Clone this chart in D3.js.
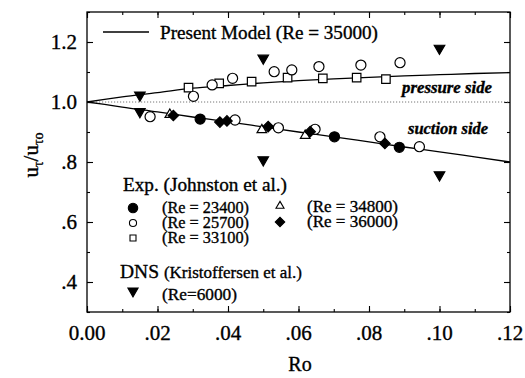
<!DOCTYPE html>
<html><head><meta charset="utf-8">
<script src="https://cdn.jsdelivr.net/npm/d3@7"></script>
<style>
body{margin:0;background:#fff;}
svg{display:block;}
svg text{stroke:#000;stroke-width:0.35px;}
</style></head>
<body>
<svg id="chart" width="525" height="378" font-family="'Liberation Serif', 'DejaVu Serif', serif"></svg>
<script>
// ---- data ----
const modelRo       = [0, 0.005, 0.01, 0.02, 0.03, 0.04, 0.05, 0.06, 0.07, 0.08, 0.09, 0.10, 0.11, 0.12];
const modelPressure = [1.0, 1.009, 1.017, 1.031, 1.046, 1.055, 1.064, 1.071, 1.077, 1.082, 1.087, 1.091, 1.095, 1.098];
const modelSuction  = [1.0, 0.992, 0.983, 0.967, 0.950, 0.934, 0.917, 0.900, 0.884, 0.867, 0.850, 0.834, 0.817, 0.800];

const exp23400Ro = [0.0321, 0.0702, 0.0886];
const exp23400U  = [0.943, 0.884, 0.849];

const exp25700Ro = [0.0302, 0.0355, 0.0413, 0.0531, 0.0581, 0.0658, 0.0777, 0.0888,
                    0.0179, 0.0420, 0.0543, 0.0647, 0.0831, 0.0943];
const exp25700U  = [1.019, 1.057, 1.079, 1.101, 1.107, 1.118, 1.123, 1.131,
                    0.951, 0.940, 0.914, 0.909, 0.884, 0.851];

const exp33100Ro = [0.0288, 0.0375, 0.0467, 0.0569, 0.0669, 0.0765, 0.0848];
const exp33100U  = [1.048, 1.062, 1.068, 1.081, 1.079, 1.081, 1.076];

const exp34800Ro = [0.0235, 0.0496, 0.0619];
const exp34800U  = [0.958, 0.907, 0.888];

const exp36000Ro = [0.0245, 0.0377, 0.0397, 0.0514, 0.0633, 0.0845];
const exp36000U  = [0.955, 0.933, 0.937, 0.918, 0.901, 0.862];

const dnsRo = [0.015, 0.05, 0.10, 0.015, 0.05, 0.10];
const dnsU  = [1.023, 1.146, 1.179, 0.968, 0.807, 0.757];

const xTicks = [0, 0.02, 0.04, 0.06, 0.08, 0.10, 0.12];
const xTickLabels = ["0.00", ".02", ".04", ".06", ".08", ".10", ".12"];
const yTicks = [0.4, 0.6, 0.8, 1.0, 1.2];
const yTickLabels = [".4", ".6", ".8", "1.0", "1.2"];

// ---- layout ----
const svg = d3.select("#chart");
const L = 87, R = 510, T = 12, B = 312;
const x = d3.scaleLinear().domain([0, 0.12]).range([L, R]);
const y = d3.scaleLinear().domain([0.3, 1.3]).range([B, T]);

// frame
svg.append("rect").attr("x", L).attr("y", T).attr("width", R - L).attr("height", B - T)
  .attr("fill", "none").attr("stroke", "#000").attr("stroke-width", 1.3);

// ticks (inward) via axes
const xMinor = d3.range(0, 0.1201, 0.01);
const yMinor = d3.range(0.3, 1.301, 0.1);
function styleAxis(g){ g.select(".domain").remove(); g.selectAll("line").attr("stroke","#000").attr("stroke-width",1.1); g.selectAll("text").remove(); }
svg.append("g").attr("transform",`translate(0,${B})`).call(d3.axisBottom(x).tickValues(xMinor).tickSizeInner(-3).tickSizeOuter(0)).call(styleAxis);
svg.append("g").attr("transform",`translate(0,${B})`).call(d3.axisBottom(x).tickValues(xTicks).tickSizeInner(-6).tickSizeOuter(0)).call(styleAxis);
svg.append("g").attr("transform",`translate(0,${T})`).call(d3.axisTop(x).tickValues(xMinor).tickSizeInner(-3).tickSizeOuter(0)).call(styleAxis);
svg.append("g").attr("transform",`translate(0,${T})`).call(d3.axisTop(x).tickValues(xTicks).tickSizeInner(-6).tickSizeOuter(0)).call(styleAxis);
svg.append("g").attr("transform",`translate(${L},0)`).call(d3.axisLeft(y).tickValues(yMinor).tickSizeInner(-3).tickSizeOuter(0)).call(styleAxis);
svg.append("g").attr("transform",`translate(${L},0)`).call(d3.axisLeft(y).tickValues(yTicks).tickSizeInner(-6).tickSizeOuter(0)).call(styleAxis);
svg.append("g").attr("transform",`translate(${R},0)`).call(d3.axisRight(y).tickValues(yMinor).tickSizeInner(-3).tickSizeOuter(0)).call(styleAxis);
svg.append("g").attr("transform",`translate(${R},0)`).call(d3.axisRight(y).tickValues(yTicks).tickSizeInner(-6).tickSizeOuter(0)).call(styleAxis);

// tick labels
svg.append("g").selectAll("text").data(xTicks).join("text")
  .attr("x", d => x(d)).attr("y", 340).attr("text-anchor", "middle")
  .attr("font-size", 21).text((d, i) => xTickLabels[i]);
svg.append("g").selectAll("text").data(yTicks).join("text")
  .attr("x", 77).attr("y", d => y(d) + 7).attr("text-anchor", "end")
  .attr("font-size", 21).text((d, i) => yTickLabels[i]);

// axis titles
svg.append("text").attr("x", 300).attr("y", 371).attr("text-anchor", "middle").attr("font-size", 20).text("Ro");
const yl = svg.append("text").attr("transform", "translate(38,155) rotate(-90)").attr("text-anchor", "middle").attr("font-size", 21);
yl.append("tspan").text("u");
yl.append("tspan").attr("font-size", 14).attr("dy", 5).text("τ");
yl.append("tspan").attr("dy", -5).text("/u");
yl.append("tspan").attr("font-size", 14).attr("dy", 5).text("τo");

// dotted reference line at 1.0
svg.append("line").attr("x1", x(0)).attr("x2", x(0.12)).attr("y1", y(1)).attr("y2", y(1))
  .attr("stroke", "#777").attr("stroke-width", 1).attr("stroke-dasharray", "1.2,1.8");

// model curves
const line = d3.line().x(d => x(d[0])).y(d => y(d[1])).curve(d3.curveMonotoneX);
[modelPressure, modelSuction].forEach(s => {
  svg.append("path").datum(modelRo.map((r, i) => [r, s[i]])).attr("d", line)
    .attr("fill", "none").attr("stroke", "#000").attr("stroke-width", 1.3);
});

// markers
const sym = {
  circleFilled: {type: d3.symbolCircle, size: 80, fill: "#000"},
  circleOpen:   {type: d3.symbolCircle, size: 80, fill: "#fff"},
  square:       {type: d3.symbolSquare, size: 72, fill: "#fff"},
  triOpen:      {type: d3.symbolTriangle, size: 40, fill: "#fff", rot: 0},
  diamond:      {type: d3.symbolSquare, size: 55, fill: "#000", rot: 45},
  triDown:      {type: d3.symbolTriangle, size: 48, fill: "#000", rot: 180}
};
function drawPts(xs, ys, s) {
  svg.append("g").selectAll("path").data(xs.map((v, i) => [v, ys[i]])).join("path")
    .attr("transform", d => `translate(${x(d[0])},${y(d[1])}) rotate(${s.rot || 0})`)
    .attr("d", d3.symbol().type(s.type).size(s.size))
    .attr("fill", s.fill).attr("stroke", "#000").attr("stroke-width", 1.2);
}
drawPts(exp34800Ro, exp34800U, sym.triOpen);
drawPts(exp33100Ro, exp33100U, sym.square);
drawPts(exp25700Ro, exp25700U, sym.circleOpen);
drawPts(exp36000Ro, exp36000U, sym.diamond);
drawPts(exp23400Ro, exp23400U, sym.circleFilled);
drawPts(dnsRo, dnsU, sym.triDown);

// ---- legend & annotations ----
function txt(s, tx, ty, fs, len, extra) {
  const t = svg.append("text").attr("x", tx).attr("y", ty).attr("font-size", fs).text(s);
  if (len) t.attr("textLength", len).attr("lengthAdjust", "spacingAndGlyphs");
  if (extra) extra(t);
  return t;
}
svg.append("line").attr("x1", 103).attr("x2", 149).attr("y1", 32).attr("y2", 32).attr("stroke", "#000").attr("stroke-width", 1.3);
txt("Present Model (Re = 35000)", 160, 39, 18.5, 218);

const ital = t => t.attr("font-style", "italic").attr("font-weight", "bold");
txt("pressure side", 402, 93, 16, 90, ital);
txt("suction side", 408, 134, 16, 80, ital);

txt("Exp. (Johnston et al.)", 123, 191, 18.5, 164);
function legSym(cx, cy, s, size) {
  svg.append("path").attr("transform", `translate(${cx},${cy}) rotate(${s.rot || 0})`)
    .attr("d", d3.symbol().type(s.type).size(size))
    .attr("fill", s.fill).attr("stroke", "#000").attr("stroke-width", 1.1);
}
legSym(133, 208, sym.circleFilled, 70);
legSym(133, 223, sym.circleOpen, 40);
legSym(133, 238, sym.square, 36);
legSym(280, 206, sym.triOpen, 28);
legSym(280, 222, sym.diamond, 45);
const legTxt = [["(Re = 23400)", 162, 213, 87], ["(Re = 25700)", 162, 228, 87], ["(Re = 33100)", 162, 243, 87],
                ["(Re = 34800)", 307, 212, 91], ["(Re = 36000)", 307, 227, 91]];
legTxt.forEach(t => txt(t[0], t[1], t[2], 17, t[3]));

const dns = svg.append("text").attr("x", 120).attr("y", 278).attr("font-size", 19.5);
dns.append("tspan").text("DNS ");
dns.append("tspan").attr("font-size", 17).text("(Kristoffersen et al.)");
legSym(133, 291, sym.triDown, 45);
txt("(Re=6000)", 162, 300, 17, 75);
</script>
</body></html>
